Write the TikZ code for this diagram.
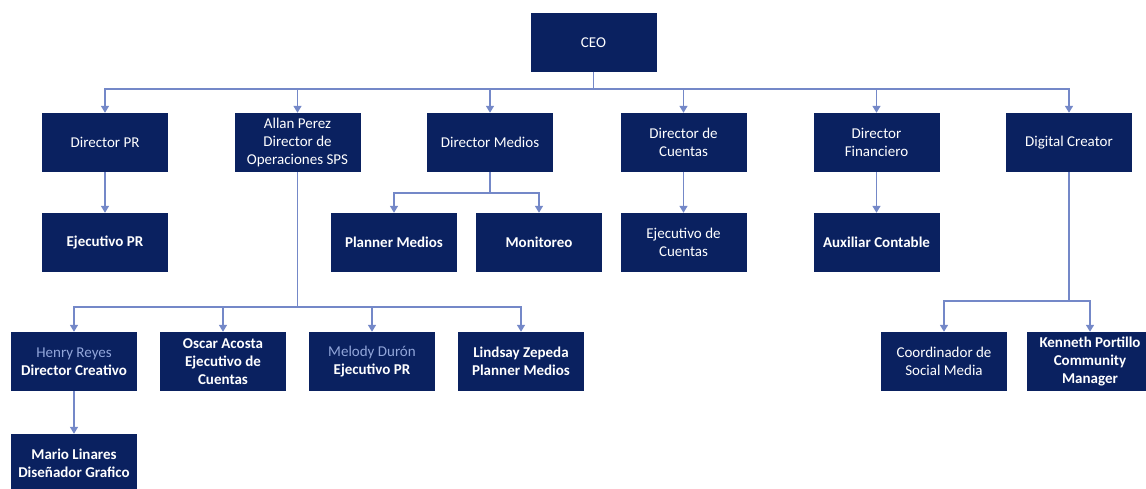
\documentclass[tikz,border=0pt]{standalone}
\usepackage{fontspec}
\setmainfont{Carlito}
\usetikzlibrary{arrows.meta}

\definecolor{navy}{RGB}{10,33,96}
\definecolor{linkblue}{RGB}{116,136,200}
\definecolor{softblue}{RGB}{146,166,218}

\begin{document}
\begin{tikzpicture}[x=1pt, y=-1pt, >={Triangle[width=8pt,length=7pt]},
    box/.style={fill=navy, text=white, minimum width=126pt, minimum height=59pt,
        inner sep=1pt, align=center, font=\fontsize{15}{18}\selectfont},
    link/.style={->, draw=linkblue, line width=1.5pt}]
    \useasboundingbox (0,0) rectangle (1146,488);
    \clip (0,0) rectangle (1146,488);

    % top
    \node[box] (ceo) at (593.5,42.5) {CEO};

    % directors
    \node[box] (dpr)   at (105,142.5)   {Director PR};
    \node[box] (allan) at (297.5,142.5) {Allan Perez\\Director de\\Operaciones SPS};
    \node[box] (dmed)  at (490,142.5)   {Director Medios};
    \node[box] (dcue)  at (683.5,142.5) {Director de\\Cuentas};
    \node[box] (dfin)  at (876.5,142.5) {Director\\Financiero};
    \node[box] (dig)   at (1069,142.5)  {Digital Creator};

    \foreach \n in {dpr,allan,dmed,dcue,dfin,dig} {
        \draw[link] (ceo.south) -- ++(0,17) -| (\n.north);
    }

    % second row
    \node[box] (ejpr)    at (105,242.5)   {\bfseries Ejecutivo PR};
    \node[box] (planner) at (394,242.5)   {\bfseries Planner Medios};
    \node[box] (monit)   at (539,242.5)   {\bfseries Monitoreo};
    \node[box] (ejcue)   at (683.5,242.5) {Ejecutivo de\\Cuentas};
    \node[box] (aux)     at (876.5,242.5) {\bfseries Auxiliar Contable};

    \draw[link] (dpr) -- (ejpr);
    \draw[link] (dcue) -- (ejcue);
    \draw[link] (dfin) -- (aux);
    \foreach \n in {planner,monit} {
        \draw[link] (dmed.south) -- ++(0,21) -| (\n.north);
    }

    % operaciones team
    \node[box] (henry)   at (74,361.5)  {{\color{softblue}Henry Reyes}\\\bfseries Director Creativo};
    \node[box] (oscar)   at (223,361.5) {\bfseries Oscar Acosta\\\bfseries Ejecutivo de\\\bfseries Cuentas};
    \node[box] (melody)  at (372,361.5) {{\color{softblue}Melody Durón}\\\bfseries Ejecutivo PR};
    \node[box] (lindsay) at (521,361.5) {\bfseries Lindsay Zepeda\\\bfseries Planner Medios};
    \node[box] (mario)   at (74,463.5)  {\bfseries Mario Linares\\\bfseries Diseñador Grafico};

    \foreach \n in {henry,oscar,melody,lindsay} {
        \draw[link] (allan.south) -- ++(0,135) -| (\n.north);
    }
    \draw[link] (henry) -- (mario);

    % digital team
    \node[box] (coord)   at (944,361.5)  {Coordinador de\\Social Media};
    \node[box] (kenneth) at (1090,361.5) {\bfseries Kenneth Portillo\\\bfseries Community\\\bfseries Manager};

    \foreach \n in {coord,kenneth} {
        \draw[link] (dig.south) -- ++(0,129) -| (\n.north);
    }
\end{tikzpicture}
\end{document}
